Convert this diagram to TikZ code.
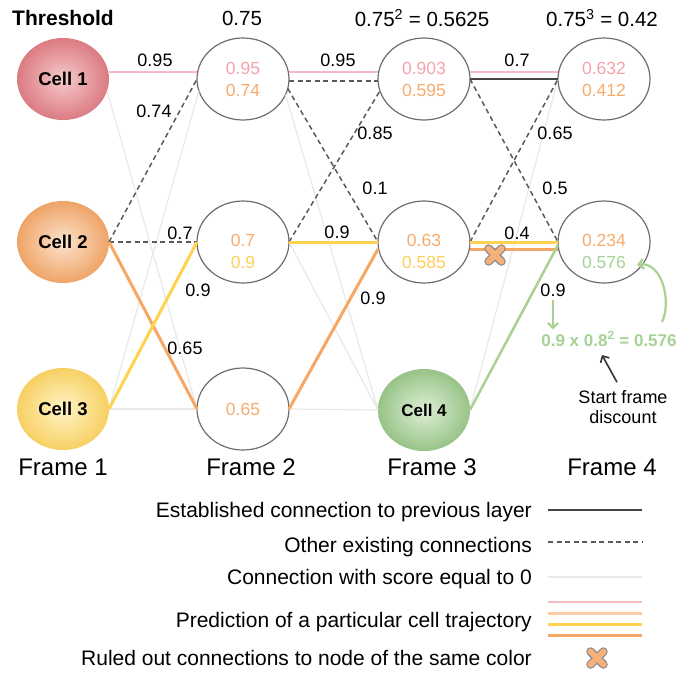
\documentclass[tikz,border=0pt]{standalone}
\usepackage{fontspec}
\setmainfont{Liberation Sans}
\usetikzlibrary{shapes.geometric,arrows.meta}
\definecolor{redcell}{HTML}{DB7B82}
\definecolor{redcellin}{HTML}{F6CACA}
\definecolor{orangecell}{HTML}{EFA467}
\definecolor{orangecellin}{HTML}{FCE3CD}
\definecolor{yellowcell}{HTML}{F7D063}
\definecolor{yellowcellin}{HTML}{FFF4C6}
\definecolor{greencell}{HTML}{98C387}
\definecolor{greencellin}{HTML}{DEEFD7}
\definecolor{pinktrack}{HTML}{F5BDC3}
\definecolor{pinktext}{HTML}{F2A3AB}
\definecolor{orangetrack}{HTML}{F6A764}
\definecolor{lightorangetrack}{HTML}{FDCBA3}
\definecolor{orangetext}{HTML}{F7AB6D}
\definecolor{yellowtrack}{HTML}{FFD250}
\definecolor{yellowtext}{HTML}{FFCF58}
\definecolor{greentrack}{HTML}{A8D192}
\definecolor{greentext}{HTML}{A6D296}
\definecolor{zerogrey}{HTML}{E8E8E8}
\definecolor{dashgrey}{HTML}{5A5A5A}
\definecolor{fixedgrey}{HTML}{454545}
\definecolor{ringgrey}{HTML}{6E6E6E}
\definecolor{xfill}{HTML}{F6B07A}
\definecolor{xedge}{HTML}{8C8C8C}

\begin{document}
\begin{tikzpicture}[x=1pt,y=1pt,
	cellnode/.style={ellipse,inner sep=0,outer sep=0,minimum width=92pt,minimum height=82pt,font=\bfseries\fontsize{18.5}{22}\selectfont},
	tracknode/.style={draw=ringgrey,line width=1.2pt,ellipse,fill=white,inner sep=0,outer sep=0,minimum width=92pt,minimum height=82pt,align=center,font=\fontsize{17.5}{22}\selectfont},
	lowtext/.style={text height=54pt},
	weight/.style={inner sep=0,font=\fontsize{18}{22}\selectfont},
	heading/.style={inner sep=0,font=\fontsize{20.5}{25}\selectfont},
	framelabel/.style={inner sep=0,font=\fontsize{24}{28}\selectfont},
	legendtext/.style={anchor=base east,inner sep=0,font=\fontsize{21}{25}\selectfont},
	zeroline/.style={draw=zerogrey,line width=1.2pt},
	otherline/.style={draw=dashgrey,line width=1.5pt,dash pattern=on 5pt off 3.5pt},
	fixedline/.style={draw=fixedgrey,line width=2.5pt},
	pinkline/.style={draw=pinktrack,line width=2.5pt},
	orangeline/.style={draw=orangetrack,line width=3pt},
	lightorangeline/.style={draw=lightorangetrack,line width=3pt},
	yellowline/.style={draw=yellowtrack,line width=3pt},
	greenline/.style={draw=greentrack,line width=2.5pt},
	greenarrow/.style={draw=greentrack,line width=2.2pt,-{Straight Barb[length=5pt,width=10pt]}},
	blackarrow/.style={draw=black!80,line width=1.6pt,-{Straight Barb[length=5pt,width=10pt]}},
	xmark/.pic={
		\draw[xedge,line width=8.5pt,line cap=round] (-6.5,-6.5) -- (6.5,6.5) (-6.5,6.5) -- (6.5,-6.5);
		\draw[xfill,line width=6pt,line cap=round] (-6.5,-6.5) -- (6.5,6.5) (-6.5,6.5) -- (6.5,-6.5);
	}]
	\useasboundingbox (0,0) rectangle (685,-673);
	\node[heading,font=\bfseries\fontsize{21}{25}\selectfont] (h1) at (63,-18) {Threshold};
	\node[heading] (h2) at (242,-18) {0.75};
	\node[heading] (h3) at (422,-18) {0.75\textsuperscript{2} = 0.5625};
	\node[heading] (h4) at (602,-18) {0.75\textsuperscript{3} = 0.42};
	\node[cellnode,inner color=redcellin,outer color=redcell] (1) at (63,-79) {Cell 1};
	\node[tracknode] (2) at (243,-79) {\textcolor{pinktext}{0.95}\\\textcolor{orangetext}{0.74}};
	\node[tracknode] (3) at (424,-79) {\textcolor{pinktext}{0.903}\\\textcolor{orangetext}{0.595}};
	\node[tracknode] (4) at (604,-79) {\textcolor{pinktext}{0.632}\\\textcolor{orangetext}{0.412}};
	\node[cellnode,inner color=orangecellin,outer color=orangecell] (5) at (63,-242) {Cell 2};
	\node[tracknode,lowtext] (6) at (243,-242) {\textcolor{orangetext}{0.7}\\\textcolor{yellowtext}{0.9}};
	\node[tracknode,lowtext] (7) at (424,-242) {\textcolor{orangetext}{0.63}\\\textcolor{yellowtext}{0.585}};
	\node[tracknode,lowtext] (8) at (604,-242) {\textcolor{orangetext}{0.234}\\\textcolor{greentext}{0.576}};
	\node[cellnode,inner color=yellowcellin,outer color=yellowcell] (9) at (63,-409) {Cell 3};
	\node[tracknode] (10) at (243,-409) {\textcolor{orangetext}{0.65}};
	\node[cellnode,inner color=greencellin,outer color=greencell,font=\bfseries\fontsize{17}{20}\selectfont] (11) at (424,-410) {Cell 4};
	\node[framelabel] (f1) at (63,-467) {Frame 1};
	\node[framelabel] (f2) at (251,-467) {Frame 2};
	\node[framelabel] (f3) at (432,-467) {Frame 3};
	\node[framelabel] (f4) at (612,-467) {Frame 4};
	\draw[zeroline] (1.-15) -- (10.west);
	\draw[zeroline] (9.east) -- (2.195);
	\draw[zeroline] (9.east) -- (10.west);
	\draw[zeroline] (2.-20) -- (11.west);
	\draw[zeroline] (6.east) -- (11.west);
	\draw[zeroline] (10.east) -- (11.west);
	\draw[zeroline] (11.east) -- (4.west);
	\draw[pinkline] ([yshift=7pt]1.east) -- ([yshift=7pt]2.west);
	\draw[otherline] (5.east) -- (2.west);
	\draw[otherline] (5.east) -- (6.west);
	\draw[orangeline] (5.east) -- (10.west);
	\draw[yellowline] (9.east) -- (6.west);
	\draw[pinkline] ([yshift=7pt]2.east) -- ([yshift=7pt]3.west);
	\draw[otherline] ([yshift=-2pt]2.east) -- ([yshift=-2pt]3.west);
	\draw[otherline] (2.-12) -- (7.west);
	\draw[otherline] (6.east) -- (3.195);
	\draw[yellowline] (6.east) -- (7.west);
	\draw[orangeline] (10.east) -- ([yshift=-7pt]7.west);
	\draw[pinkline] ([yshift=7pt]3.east) -- ([yshift=7pt]4.west);
	\draw[fixedline] (3.east) -- (4.west);
	\draw[otherline] (3.east) -- (8.west);
	\draw[otherline] (7.east) -- (4.west);
	\draw[yellowline] (7.east) -- (8.west);
	\draw[orangeline] ([yshift=-7pt]7.east) -- ([yshift=-7pt]8.west);
	\draw[greenline] (11.east) -- ([yshift=-3pt]8.west);
	\pic at (495,-255) {xmark};
	\node[weight] (w1) at (155,-60) {0.95};
	\node[weight] (w2) at (154,-111) {0.74};
	\node[weight] (w3) at (180,-233) {0.7};
	\node[weight] (w4) at (198,-290) {0.9};
	\node[weight] (w5) at (185,-348) {0.65};
	\node[weight] (w6) at (338,-60) {0.95};
	\node[weight] (w7) at (375,-133) {0.85};
	\node[weight] (w8) at (375,-188) {0.1};
	\node[weight] (w9) at (337,-232) {0.9};
	\node[weight] (w10) at (373,-298) {0.9};
	\node[weight] (w11) at (517,-60) {0.7};
	\node[weight] (w12) at (555,-133) {0.65};
	\node[weight] (w13) at (555,-188) {0.5};
	\node[weight] (w14) at (517,-233) {0.4};
	\node[weight] (w15) at (553,-290) {0.9};
	\node[inner sep=2pt,text=greentext,font=\bfseries\fontsize{17}{20}\selectfont] (f) at (609,-339) {0.9 x 0.8\textsuperscript{2} = 0.576};
	\node[inner sep=0,align=center,font=\fontsize{18}{20}\selectfont] (s) at (623,-407) {Start frame\\discount};
	\coordinate (g) at (662,-322);
	\coordinate (h) at (637,-265);
	\coordinate (k) at (602,-355);
	\draw[greenarrow,shorten <=3pt] (w15.south) -- (w15.south |- f.north);
	\draw[greenarrow] (g) to[out=65,in=10] (h);
	\draw[blackarrow] ([xshift=-6pt,yshift=8pt]s.north) -- (k);
	\node[legendtext] (l1) at (532,-517) {Established connection to previous layer};
	\node[legendtext] (l2) at (532,-552) {Other existing connections};
	\node[legendtext] (l3) at (532,-584) {Connection with score equal to 0};
	\node[legendtext] (l4) at (532,-627) {Prediction of a particular cell trajectory};
	\node[legendtext] (l5) at (532,-665) {Ruled out connections to node of the same color};
	\draw[fixedline] (548,-510) -- (642,-510);
	\draw[otherline] (548,-542) -- (642,-542);
	\draw[zeroline] (548,-577) -- (642,-577);
	\draw[pinkline] (548,-602) -- (642,-602);
	\draw[lightorangeline] (548,-613) -- (642,-613);
	\draw[yellowline] (548,-624) -- (642,-624);
	\draw[orangeline] (548,-635) -- (642,-635);
	\pic at (597,-658) {xmark};
\end{tikzpicture}
\end{document}
